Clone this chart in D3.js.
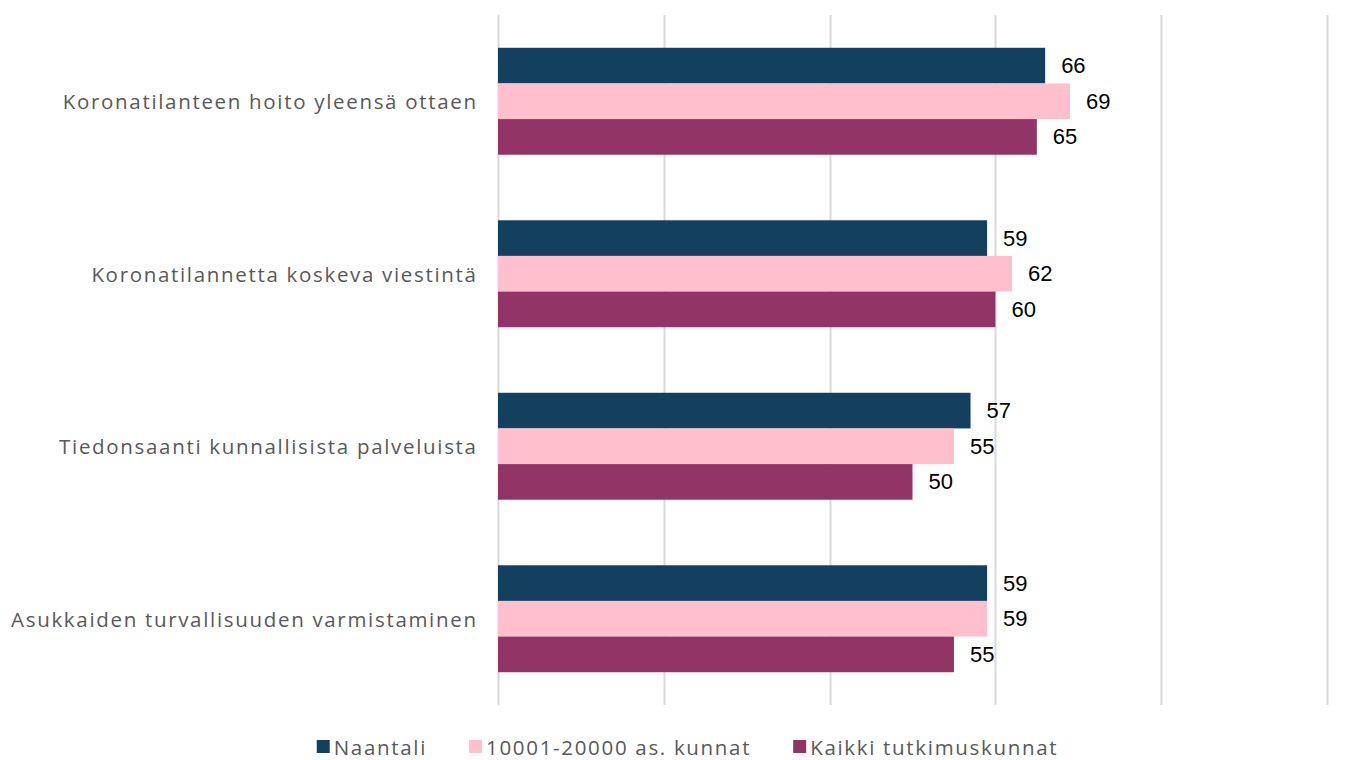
<!DOCTYPE html>
<html>
<head>
<meta charset="utf-8">
<script src="https://cdn.jsdelivr.net/npm/d3@7"></script>
<style>
  html, body { margin: 0; padding: 0; background: #fff; }
  svg { display: block; }
</style>
</head>
<body>
<svg id="chart" width="1355" height="760"></svg>
<script>
// Categories and series
const categories = [
  "Koronatilanteen hoito yleensä ottaen",
  "Koronatilannetta koskeva viestintä",
  "Tiedonsaanti kunnallisista palveluista",
  "Asukkaiden turvallisuuden varmistaminen"
];
const seriesNames = ["Naantali", "10001-20000 as. kunnat", "Kaikki tutkimuskunnat"];
const naantali = [66, 59, 57, 59];
const kunnat10to20k = [69, 62, 55, 59];
const kaikki = [65, 60, 50, 55];
const xTicks = [0, 20, 40, 60, 80, 100];
const colors = ["#14405F", "#FFBFCD", "#933466"];

const seriesValues = [naantali, kunnat10to20k, kaikki];

const svg = d3.select("#chart");
const plotLeft = 498, plotRight = 1327, plotTop = 15, plotBottom = 705;
const labelFont = "'Open Sans', sans-serif";
const labelSize = 20.5;
const labelSpacing = 1.68;

const x = d3.scaleLinear().domain([0, 100]).range([plotLeft, plotRight]);
const y0 = d3.scaleBand().domain(categories).range([plotTop, plotBottom]).paddingInner(0.38).paddingOuter(0.19);
const y1 = d3.scaleBand().domain(seriesNames).range([0, y0.bandwidth()]);

// Vertical gridlines
svg.append("g").selectAll("line").data(xTicks).join("line")
  .attr("x1", d => Math.round(x(d)) + 0.5).attr("x2", d => Math.round(x(d)) + 0.5)
  .attr("y1", plotTop).attr("y2", plotBottom)
  .attr("stroke", "#d9d9d9").attr("stroke-width", 2);

// Category labels
svg.append("g").selectAll("text").data(categories).join("text")
  .attr("x", plotLeft - 22 + labelSpacing)
  .attr("y", d => y0(d) + y0.bandwidth() / 2)
  .attr("text-anchor", "end")
  .attr("dominant-baseline", "central")
  .attr("font-family", labelFont)
  .attr("font-size", labelSize)
  .attr("letter-spacing", labelSpacing)
  .attr("fill", "#595959")
  .text(d => d);

// Bars and value labels
const groups = svg.append("g").selectAll("g").data(categories).join("g")
  .attr("transform", d => `translate(0,${y0(d)})`);

groups.each(function(cat, ci) {
  const g = d3.select(this);
  seriesNames.forEach((s, si) => {
    const v = seriesValues[si][ci];
    g.append("rect")
      .attr("x", x(0))
      .attr("y", y1(s))
      .attr("width", x(v) - x(0))
      .attr("height", y1.bandwidth())
      .attr("fill", colors[si]);
    g.append("text")
      .attr("x", x(v) + 16)
      .attr("y", y1(s) + y1.bandwidth() / 2)
      .attr("dominant-baseline", "central")
      .attr("font-family", "'Liberation Sans', Arial, sans-serif")
      .attr("font-size", 22)
      .attr("fill", "#000")
      .text(v);
  });
});

// Legend
const legendY = 747;
const items = svg.append("g").selectAll("g").data(seriesNames).join("g");
items.append("rect").attr("width", 13).attr("height", 13).attr("y", legendY - 7)
  .attr("fill", (d, i) => colors[i]);
items.append("text").attr("x", 17).attr("y", legendY)
  .attr("dominant-baseline", "central")
  .attr("font-family", labelFont)
  .attr("font-size", labelSize)
  .attr("letter-spacing", labelSpacing)
  .attr("fill", "#595959")
  .text(d => d);
const gap = 42;
const widths = items.nodes().map(n => n.getBBox().width);
const total = d3.sum(widths) + gap * (widths.length - 1);
let cx = 1355 / 2 - total / 2 + 10;
items.attr("transform", (d, i) => {
  const t = `translate(${cx},0)`;
  cx += widths[i] + gap;
  return t;
});
</script>
</body>
</html>
